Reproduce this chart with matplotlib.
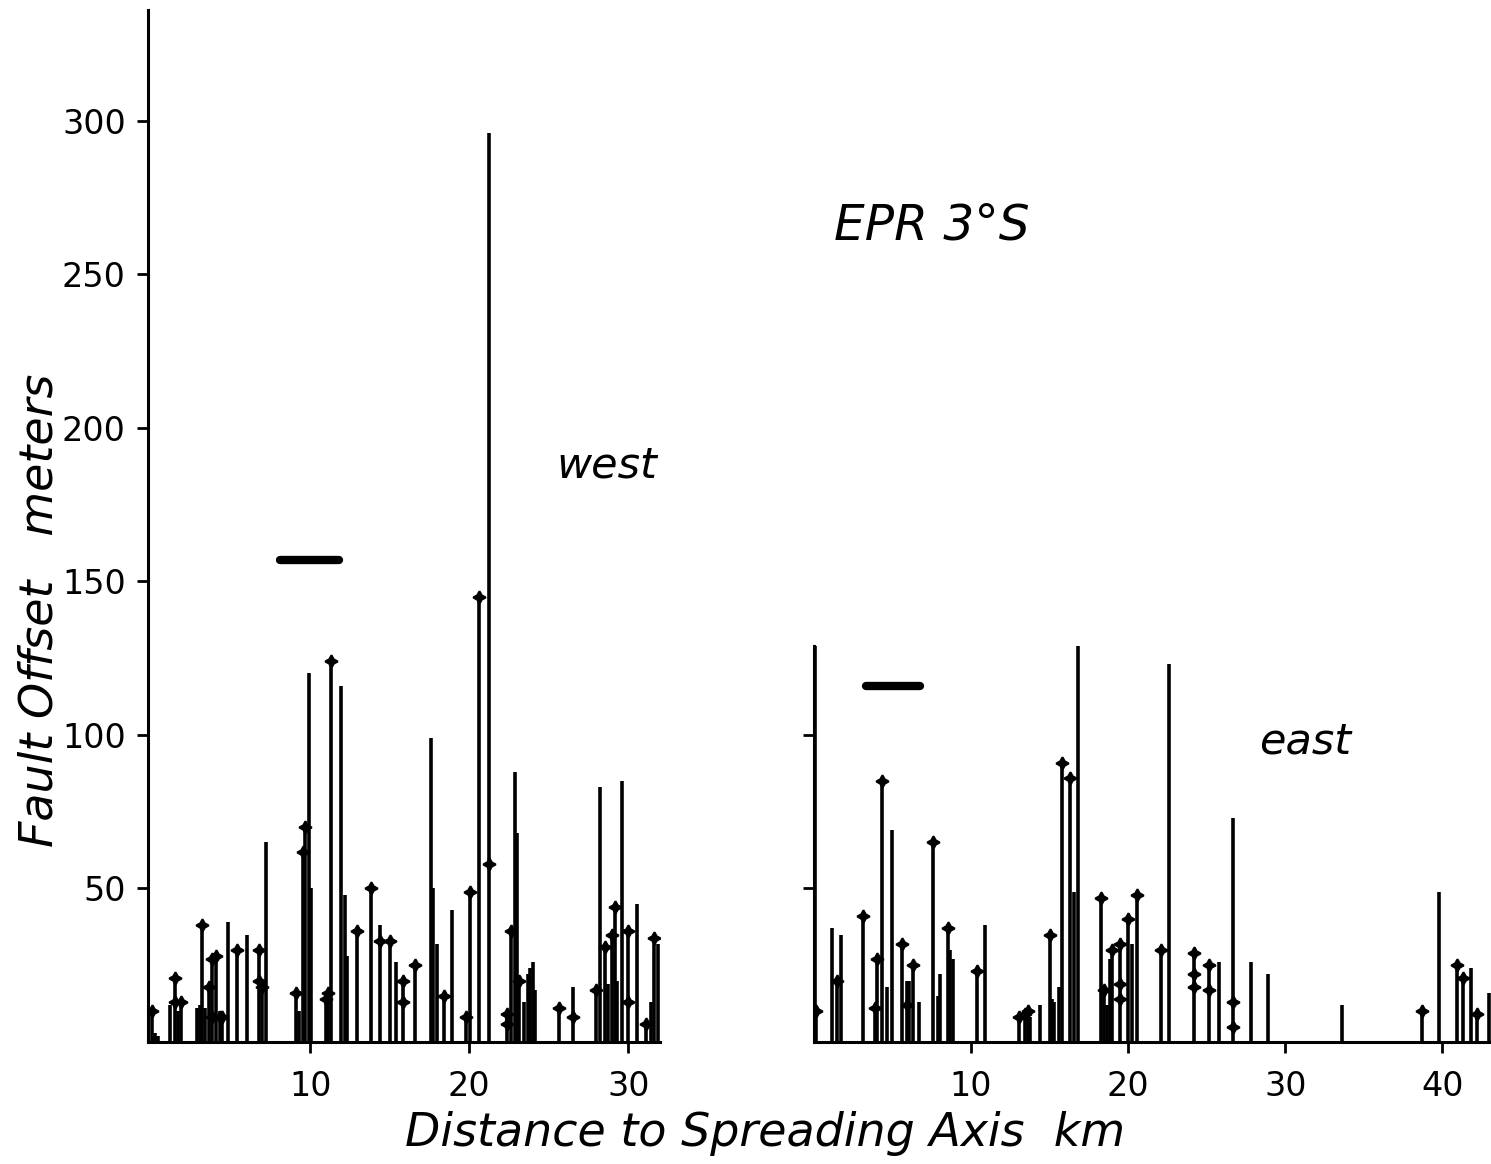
import matplotlib.pyplot as plt
import numpy as np

# fault offsets, west flank (km from axis, offset in m)
west_km = [0.06, 0.25, 0.4, 1.2, 1.5, 1.7, 1.9, 2.9, 3.08, 3.2, 3.4, 3.65, 3.84, 4.1, 4.3,
           4.45, 4.85, 5.4, 6.0, 6.75, 7.0, 7.25, 9.1, 9.3, 9.55, 9.7, 9.9, 10.05, 11.0,
           11.15, 11.3, 11.95, 12.2, 12.3, 12.95, 13.85, 14.4, 15.0, 15.4, 15.85, 16.6,
           17.6, 17.75, 18.0, 18.4, 18.95, 19.8, 20.05, 20.6, 21.25, 22.4, 22.65, 22.85,
           23.0, 23.15, 23.45, 23.7, 23.85, 24.0, 24.15, 25.65, 26.55, 28.0, 28.2, 28.55,
           28.75, 28.95, 29.2, 29.3, 29.6, 30.0, 30.55, 31.1, 31.45, 31.65, 31.85]
west_m = [10, 3, 2, 12, 21, 10, 13, 11, 12, 38, 11, 18, 27, 28, 10,
          8, 39, 30, 35, 30, 18, 65, 16, 10, 62, 70, 120, 50, 14,
          16, 124, 116, 48, 28, 36, 50, 38, 33, 26, 20, 25,
          99, 50, 32, 15, 43, 8, 49, 145, 296, 9, 36, 88,
          68, 20, 13, 22, 24, 26, 17, 11, 18, 17, 83, 31,
          19, 35, 44, 20, 85, 36, 45, 6, 13, 34, 32]
west_mark_km = [0.06, 1.5, 1.5, 1.9, 3.2, 3.65, 3.84, 3.84, 4.1, 4.3, 4.45, 5.4, 6.75, 6.75,
                7.0, 9.1, 9.55, 9.7, 11.0, 11.15, 11.3, 12.95, 13.85, 14.4, 15.0, 15.85,
                15.85, 16.6, 18.4, 19.8, 20.05, 20.6, 21.25, 22.4, 22.4, 22.65, 23.15,
                25.65, 26.55, 28.0, 28.55, 28.95, 29.2, 30.0, 30.0, 31.1, 31.65]
west_mark_m = [10, 21, 13, 13, 38, 18, 27, 8, 28, 8, 8, 30, 30, 20,
               18, 16, 62, 70, 14, 16, 124, 36, 50, 33, 33, 20,
               13, 25, 15, 8, 49, 145, 58, 9, 6, 36, 20,
               11, 8, 17, 31, 35, 44, 36, 13, 6, 34]

# fault offsets, east flank
east_km = [0.05, 0.15, 1.15, 1.45, 1.7, 3.1, 3.9, 4.0, 4.35, 4.65, 4.95, 5.6, 5.9, 6.05,
           6.3, 6.7, 7.6, 7.9, 8.0, 8.55, 8.65, 8.85, 10.4, 10.9, 13.05, 13.45, 13.65,
           13.75, 14.4, 15.05, 15.15, 15.3, 15.6, 15.8, 16.3, 16.55, 16.8, 18.3, 18.45,
           18.65, 18.85, 19.0, 19.45, 20.0, 20.25, 20.55, 22.1, 22.6, 24.2, 25.15, 25.8,
           26.7, 27.8, 28.9, 33.6, 38.7, 39.8, 40.95, 41.3, 41.85, 42.2, 43.0]
east_m = [129, 10, 37, 20, 35, 41, 11, 27, 85, 18, 69, 32, 20, 20,
          25, 13, 65, 15, 22, 37, 30, 27, 23, 38, 8, 9, 10,
          8, 12, 35, 14, 13, 18, 91, 86, 49, 129, 47, 17,
          12, 27, 30, 32, 40, 32, 48, 30, 123, 29, 25, 26,
          73, 26, 22, 12, 10, 49, 25, 21, 24, 9, 16]
east_mark_km = [0.15, 1.45, 3.1, 3.9, 4.0, 4.35, 5.6, 5.9, 6.3, 7.6, 8.55, 10.4, 13.05,
                13.45, 13.65, 15.05, 15.8, 16.3, 18.3, 18.45, 19.0, 19.45, 19.45, 19.45,
                20.0, 20.55, 22.1, 24.2, 24.2, 24.2, 25.15, 25.15, 26.7, 26.7, 38.7,
                40.95, 41.3, 42.2]
east_mark_m = [10, 20, 41, 11, 27, 85, 32, 12, 25, 65, 37, 23, 8,
               9, 10, 35, 91, 86, 47, 17, 30, 32, 19, 14,
               40, 48, 30, 29, 22, 18, 25, 17, 13, 5, 10,
               25, 21, 9]

# thick horizontal bars (start km, end km, level m)
west_bar = [8.1, 11.8, 157]
east_bar = [3.3, 6.75, 116]

W, H = 1491, 1164
fig = plt.figure(figsize=(W / 100, H / 100), dpi=100)
fig.patch.set_facecolor('white')

axL = fig.add_axes([148 / W, 1 - 1042 / H, (660 - 148) / W, (1042 - 10) / H])
axR = fig.add_axes([814 / W, 1 - 1042 / H, (W - 814) / W, (1042 - 10) / H])

mk = dict(marker=(4, 1, 0), ms=9, color='black', ls='none', mew=1.5)

axL.vlines(west_km, 0, west_m, color='black', lw=2.6)
axL.plot(west_mark_km, west_mark_m, **mk)
axL.plot(west_bar[:2], [west_bar[2]] * 2, color='black', lw=6, solid_capstyle='round')

axR.vlines(east_km, 0, east_m, color='black', lw=2.6)
axR.plot(east_mark_km, east_mark_m, **mk)
axR.plot(east_bar[:2], [east_bar[2]] * 2, color='black', lw=6, solid_capstyle='round')

for ax in (axL, axR):
    ax.set_ylim(0, 336)
    ax.spines['top'].set_visible(False)
    ax.spines['right'].set_visible(False)
    ax.spines['left'].set_linewidth(2.2)
    ax.spines['bottom'].set_linewidth(2.2)
    ax.tick_params(direction='out', length=8, width=2, labelsize=24, pad=8)
    ax.set_facecolor('none')

axL.set_xlim(-0.2, 32.0)
axL.set_xticks([10, 20, 30])
axL.set_yticks([50, 100, 150, 200, 250, 300])

axR.set_xlim(0, 43.1)
axR.set_xticks([10, 20, 30, 40])
axR.set_yticks([50, 100])
axR.set_yticklabels([])
axR.spines['left'].set_bounds(0, 129)
axR.tick_params(axis='x', pad=12)
axL.tick_params(axis='x', pad=12)

fig.text(765 / W, 1 - 1133 / H, 'Distance to Spreading Axis  km', fontsize=33,
         style='italic', ha='center', va='center')
fig.text(40 / W, 1 - 610 / H, 'Fault Offset   meters', fontsize=33, style='italic',
         rotation=90, ha='center', va='center')
fig.text(932 / W, 1 - 225 / H, 'EPR 3°S', fontsize=35, style='italic',
         ha='center', va='center')
fig.text(607 / W, 1 - 465 / H, 'west', fontsize=31, style='italic',
         ha='center', va='center')
fig.text(1305 / W, 1 - 742 / H, 'east', fontsize=31, style='italic',
         ha='center', va='center')

fig.savefig('out.png', dpi=100, facecolor='white')
